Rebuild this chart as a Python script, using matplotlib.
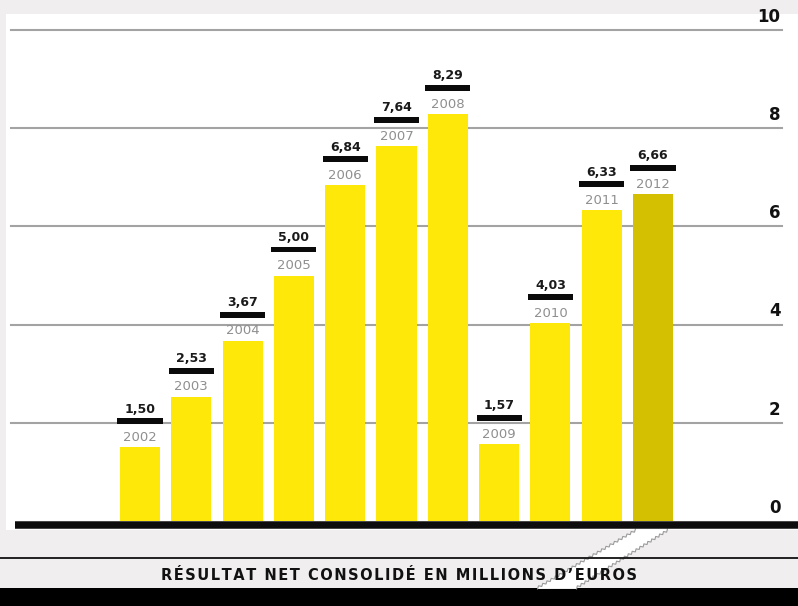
import matplotlib
matplotlib.use("Agg")
import matplotlib.pyplot as plt
from matplotlib.patches import Rectangle, Polygon
from matplotlib.lines import Line2D
import numpy as np

# Net consolidated result, in millions of euros
years = ["2002", "2003", "2004", "2005", "2006", "2007", "2008", "2009", "2010", "2011", "2012"]
values = [1.50, 2.53, 3.67, 5.00, 6.84, 7.64, 8.29, 1.57, 4.03, 6.33, 6.66]
yticks = [0, 2, 4, 6, 8, 10]
caption = "RÉSULTAT NET CONSOLIDÉ EN MILLIONS D’EUROS"

W, H = 798, 606
BG = "#f0eeef"
YELLOW = "#fde80a"
YELLOW_LAST = "#d4c000"
GRID = "#a3a3a3"

fig = plt.figure(figsize=(W / 100, H / 100), dpi=100, facecolor=BG)


def fx(px):
    return np.asarray(px) / W


def fy(py):
    return 1 - np.asarray(py) / H


# white chart panel
fig.patches.append(Rectangle((fx(6), fy(530)), fx(W) - fx(6), fy(14) - fy(530),
                             transform=fig.transFigure, facecolor="white",
                             edgecolor="none", zorder=0))

# black strip at the bottom
fig.patches.append(Rectangle((0, 0), 1, fy(588), transform=fig.transFigure,
                             facecolor="black", edgecolor="none", zorder=0))

# diagonal white stripe with serrated edges under the caption
def zigzag(x0, y0, x1, y1, n=48, amp=1.1):
    t = np.linspace(0, 1, n)
    xs = x0 + (x1 - x0) * t
    ys = y0 + (y1 - y0) * t
    dx, dy = x1 - x0, y1 - y0
    L = np.hypot(dx, dy)
    nx, ny = -dy / L, dx / L
    s = np.where(np.arange(n) % 2 == 0, amp, -amp)
    return xs + nx * s, ys + ny * s

lx, ly = zigzag(636, 530, 537, 588)
rx, ry = zigzag(668, 530, 576, 588)
poly = list(zip(fx(lx), fy(ly))) + list(zip(fx(rx[::-1]), fy(ry[::-1])))
fig.patches.append(Polygon(poly, closed=True, transform=fig.transFigure,
                           facecolor="white", edgecolor="none", zorder=1))
for xs, ys in ((lx, ly), (rx, ry)):
    fig.lines.append(Line2D(fx(xs), fy(ys), transform=fig.transFigure,
                            color="#9a9a9a", lw=0.8, zorder=2))

# thin rule above the caption
fig.lines.append(Line2D([0, 1], [fy(558), fy(558)], transform=fig.transFigure,
                        color="#111111", lw=1.3, zorder=3))
spaced = "\u200a".join(caption)
fig.text(0.5, fy(575), spaced, ha="center", va="center", fontsize=10.5,
         fontweight="bold", color="#111111", family="DejaVu Sans", zorder=4)

# plotting axes: y=0 at px 521, y=10 at px 30; bar centres at 140 + 51.3*i
x_left, x_right = 11, 782
step, first = 51.3, 140
ax = fig.add_axes([fx(x_left), fy(521), fx(x_right) - fx(x_left), fy(30) - fy(521)])
ax.set_zorder(5)
ax.set_xlim((x_left - first) / step, (x_right - first) / step)
ax.set_ylim(0, 10)
ax.set_facecolor("none")
ax.axis("off")

for t in yticks[1:]:
    ax.axhline(t, color=GRID, lw=1.5, zorder=1, clip_on=False)
for t in yticks:
    ax.annotate(str(t), xy=(1, t), xycoords=("axes fraction", "data"),
                xytext=(-1, 3), textcoords="offset points", ha="right", va="bottom",
                fontsize=12, fontweight="bold", color="#111111")

x = np.arange(len(years))
colors = [YELLOW] * (len(years) - 1) + [YELLOW_LAST]
ax.bar(x, values, width=0.78, color=colors, zorder=2)

# black marker bars, value labels and year labels above each bar
ax.bar(x, [0.12] * len(x), bottom=np.array(values) + 0.47, width=0.88,
       color="#0a0a0a", zorder=3)
for xi, v, yr in zip(x, values, years):
    ax.text(xi, v + 0.775, f"{v:.2f}".replace(".", ","), ha="center", va="center",
            fontsize=9, fontweight="bold", color="#1a1a1a", zorder=4)
    ax.text(xi, v + 0.2, yr, ha="center", va="center", fontsize=9.5,
            color="#8f8f8f", zorder=4)

# heavy baseline
ax.axhline(-0.08, xmin=(15 - x_left) / (x_right - x_left),
           xmax=(W - x_left) / (x_right - x_left), color="#0d0d0d", lw=5.4,
           zorder=5, clip_on=False, solid_capstyle="butt")

fig.savefig("out.png", dpi=100, facecolor=BG)
